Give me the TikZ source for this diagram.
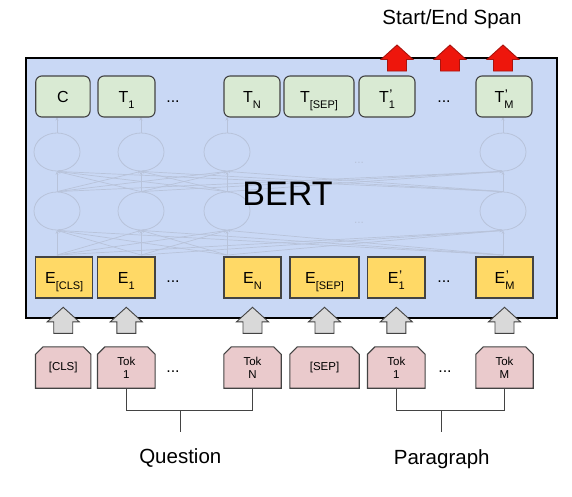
\documentclass[tikz,border=0pt]{standalone}
\usepackage{fontspec}
\setmainfont{Liberation Sans}
\usetikzlibrary{shapes.geometric,arrows.meta,backgrounds}
\definecolor{bertblue}{RGB}{201,216,245}
\definecolor{outgreen}{RGB}{217,234,211}
\definecolor{embyellow}{RGB}{255,217,102}
\definecolor{tokpink}{RGB}{234,202,204}
\definecolor{boxline}{RGB}{67,67,67}
\definecolor{faint}{RGB}{184,195,218}
\definecolor{spanred}{RGB}{238,22,12}
\definecolor{spanredline}{RGB}{170,20,14}
\definecolor{feedgray}{RGB}{217,217,217}
\newcommand\lsub[1]{\raisebox{-6.5pt}{\fontsize{11}{11}\selectfont #1}}
\newcommand\lsubp[1]{\makebox[0pt][l]{\raisebox{2.5pt}{\fontsize{14}{14}\selectfont\kern0.5pt'}}\lsub{#1}}
\tikzset{
  bertbox/.style={draw=black, line width=2.5pt, fill=bertblue, inner sep=0pt},
  outbox/.style={draw=boxline, line width=1.1pt, fill=outgreen, rounded corners=6pt,
    minimum height=41pt, inner sep=0pt, text height=11.6pt, text depth=0pt,
    font=\fontsize{16}{16}\selectfont},
  embbox/.style={draw=boxline, line width=1.1pt, fill=embyellow,
    minimum height=41pt, inner sep=0pt, text height=11.6pt, text depth=0pt,
    font=\fontsize{16}{16}\selectfont},
  tokbox/.style={minimum height=41pt, inner sep=0pt, align=center,
    font=\fontsize{11.5}{13.3}\selectfont},
  tokshape/.style={draw=boxline, line width=1.1pt, fill=tokpink},
  neuron/.style={ellipse, draw=faint, line width=0.8pt, minimum width=46pt, minimum height=38pt},
  faintarrow/.style={draw=faint, line width=0.7pt, -{Stealth[length=3.5pt,width=3pt]}},
  dots/.style={inner sep=0pt, font=\fontsize{16}{16}\selectfont},
  bracket/.style={draw=boxline, line width=1pt},
  label/.style={anchor=base, inner sep=0pt, font=\fontsize{20.5}{20.5}\selectfont},
  blockarrow/.pic={\path[pic actions] (-16,0) -- (0,-14.5) -- (16,0) -- (9.5,0)
    -- (9.5,11.5) -- (-9.5,11.5) -- (-9.5,0) -- cycle;}
}
\begin{document}
\begin{tikzpicture}[x=1pt,y=-1pt]
\useasboundingbox (0,0) rectangle (572,496);
% BERT body
\node[bertbox, minimum width=531pt, minimum height=260pt] (bert) at (291.5,188) {};
% faint network
\foreach \x [count=\i] in {57,141,227,503} {
  \node[neuron] (lo\i) at (\x,211) {};
  \node[neuron] (hi\i) at (\x,152) {};
  \coordinate (in\i) at (\x,255);
  \coordinate (out\i) at (\x,117);
}
\foreach \i in {1,...,4} \foreach \j in {1,...,4} {
  \draw[faintarrow] (in\i) -- (lo\j.south);
  \draw[faintarrow] (lo\i.north) -- (hi\j.south);
}
\foreach \i in {1,...,4} \draw[faintarrow] (hi\i.north) -- (out\i);
\node[dots, text=faint, font=\fontsize{12}{12}\selectfont] (fdots1) at (359,163) {...};
\node[dots, text=faint, font=\fontsize{12}{12}\selectfont] (fdots2) at (359,223) {...};
\node[anchor=base, inner sep=0pt, font=\fontsize{34}{34}\selectfont] (berttext) at (287.5,205) {BERT};
% output row
\foreach \x/\w/\n/\t in {62.9/54.3/c/C, 126.5/57/t1/T\lsub{1}, 252/56/tn/T\lsub{N},
    319/70/tsep/T\lsub{[SEP]}, 387/56/t1p/T\lsubp{1}, 504/56/tm/T\lsubp{M}}
  \node[outbox, minimum width=\w pt] (\n) at (\x,96.5) {\t};
% embedding row
\foreach \x/\w/\n/\t in {64.2/57/ecls/E\lsub{[CLS]}, 126.3/57.3/e1/E\lsub{1}, 252.5/57/en/E\lsub{N},
    324.5/69/esep/E\lsub{[SEP]}, 396.3/57.3/e1p/E\lsubp{1}, 504.5/57/em/E\lsubp{M}}
  \node[embbox, minimum width=\w pt] (\n) at (\x,277.5) {\t};
% input tokens
\foreach \x/\w/\n/\t in {63.2/55/kcls/{[CLS]}, 126.3/57.3/kq1/{Tok\\1}, 252.5/57/kqn/{Tok\\N},
    324.5/69/ksep/{[SEP]}, 396.3/57.3/kp1/{Tok\\1}, 504.5/57/kpm/{Tok\\M}}
  \node[tokbox, minimum width=\w pt] (\n) at (\x,367.5) {\t};
\begin{scope}[on background layer]
\foreach \n in {kcls,kq1,kqn,ksep,kp1,kpm}
  \draw[tokshape] (\n.south west) -- ([yshift=-7.5pt]\n.north west) -- ([xshift=7.5pt]\n.north west)
    -- ([xshift=-7.5pt]\n.north east) -- ([yshift=-7.5pt]\n.north east) -- (\n.south east) -- cycle;
\end{scope}
\node[dots] (tdots1) at (173,102) {...};
\node[dots] (tdots2) at (444,102) {...};
\node[dots] (edots1) at (173,282) {...};
\node[dots] (edots2) at (444,282) {...};
\node[dots] (kdots1) at (173,372) {...};
\node[dots] (kdots2) at (445,372) {...};
% feed arrows into BERT
\foreach \n in {kcls,kq1,kqn,ksep,kp1,kpm}
  \pic[draw=boxline, line width=0.9pt, fill=feedgray] at ([yshift=25pt]\n.north) {blockarrow};
% span arrows
\foreach \x in {397,450,503}
  \pic[draw=spanredline, line width=0.9pt, fill=spanred] at (\x,59.5) {blockarrow};
\node[label] (span) at (452,24) {Start/End Span};
% question / paragraph brackets
\coordinate (qbar) at (180.7,410);
\coordinate (pbar) at (441.7,410);
\node[label] (question) at (180.3,463.3) {Question};
\node[label] (paragraph) at (441.7,464) {Paragraph};
\draw[bracket] (kq1.south) |- (qbar) -| (kqn.south);
\draw[bracket] (qbar) -- ++(0,22);
\draw[bracket] (kp1.south) |- (pbar) -| (kpm.south);
\draw[bracket] (pbar) -- ++(0,22);
\end{tikzpicture}
\end{document}
